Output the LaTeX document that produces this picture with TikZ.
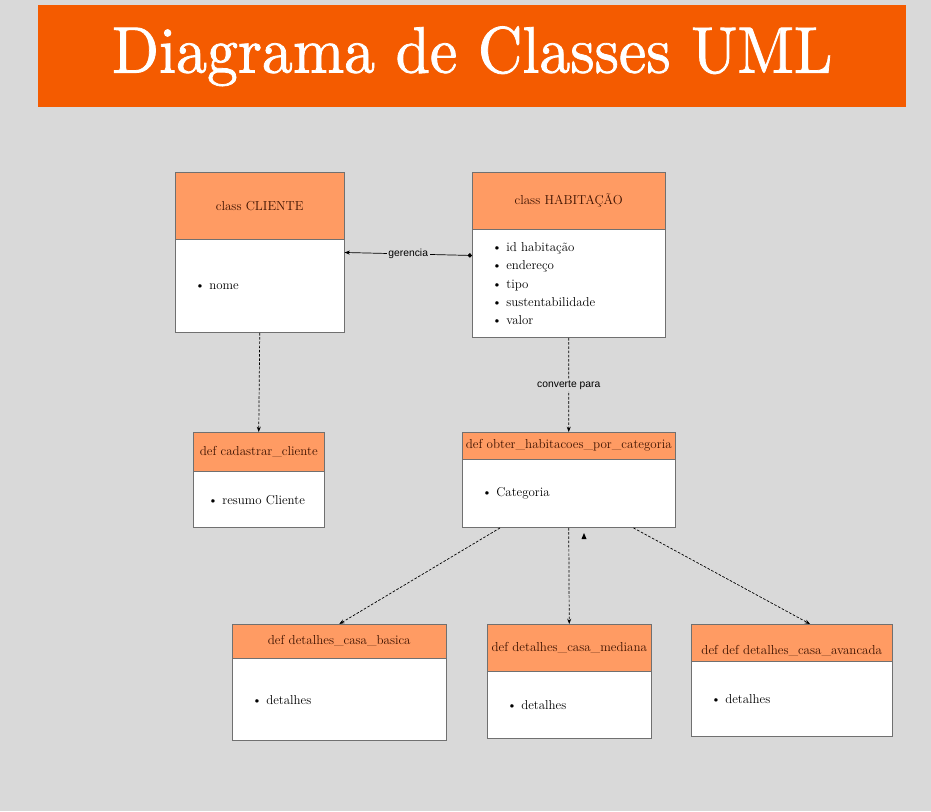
\documentclass[tikz,border=0pt]{standalone}
\usepackage{fontspec}
\usepackage{graphicx}
\usepackage{xcolor}
\usepackage{tikz}
\usetikzlibrary{positioning, arrows.meta, calc}

\newfontfamily\labelsans{Liberation Sans}
\newfontfamily\titlefont[Extension=.otf, RawFeature={embolden=1.2}]{lmroman10-regular}
\definecolor{bggray}{HTML}{D9D9D9}
\definecolor{banner}{HTML}{F45B00}
\definecolor{headfill}{HTML}{FF9B63}
\definecolor{headtext}{HTML}{3D1200}
\definecolor{boxline}{HTML}{707070}

\begin{document}
\begin{tikzpicture}[
      x=0.03cm, y=-0.03cm,
      head/.style={draw=boxline, fill=headfill, rectangle, anchor=north west, text=headtext, inner sep=0pt, font=\fontsize{11.1}{13}\selectfont},
      body/.style={draw=boxline, fill=white, rectangle, anchor=north, align=left, inner xsep=0.6cm, inner ysep=0pt, font=\fontsize{11}{15.5}\selectfont},
      link/.style={line width=0.6pt, dash pattern=on 2.2pt off 1.4pt, -{Stealth[length=1.6mm, width=1.2mm]}},
      tag/.style={fill=bggray, inner sep=1.5pt, font=\labelsans\fontsize{8.8}{10}\selectfont}
    ]
      \fill[bggray] (0,0) rectangle (931,811);
      \node[fill=banner, anchor=north west, minimum width=26.04cm, minimum height=3.06cm, text=white, font=\titlefont\fontsize{56}{60}\selectfont] (title) at (38,5) {\scalebox{0.94}[1]{Diagrama de Classes UML}};

      % classes
      \node[head, minimum width=5.07cm, minimum height=2.01cm] (cliente-h) at (175,172) {class CLIENTE};
      \node[body, text width=3.87cm, minimum height=2.79cm] (cliente) at (cliente-h.south) {\textbullet\ nome};

      \node[head, minimum width=5.79cm, minimum height=1.71cm] (hab-h) at (472,172) {class HABITAÇÃO};
      \node[body, text width=4.59cm, minimum height=3.24cm] (hab) at (hab-h.south) {\textbullet\ id habitação\\ \textbullet\ endereço\\ \textbullet\ tipo\\ \textbullet\ sustentabilidade\\ \textbullet\ valor};

      % funcoes
      \node[head, minimum width=3.93cm, minimum height=1.17cm] (cadastro-h) at (193,432) {def cadastrar\_cliente};
      \node[body, inner xsep=0.45cm, text width=3.03cm, minimum height=1.68cm] (cadastro) at (cadastro-h.south) {\textbullet\ resumo Cliente};

      \node[head, minimum width=6.39cm, minimum height=0.81cm] (obter-h) at (462,432) {def obter\_habitacoes\_por\_categoria};
      \node[body, text width=5.19cm, minimum height=2.04cm] (obter) at (obter-h.south) {\textbullet\ Categoria};

      \node[head, minimum width=6.42cm, minimum height=1.02cm] (basica-h) at (232,624) {def detalhes\_casa\_basica};
      \node[body, text width=5.22cm, minimum height=2.46cm] (basica) at (basica-h.south) {\textbullet\ detalhes};

      \node[head, minimum width=4.92cm, minimum height=1.41cm] (mediana-h) at (487,624) {def detalhes\_casa\_mediana};
      \node[body, text width=3.72cm, minimum height=2.01cm] (mediana) at (mediana-h.south) {\textbullet\ detalhes};

      \node[head, minimum width=6.03cm, minimum height=1.11cm, text height=22pt] (avancada-h) at (691,624) {def def detalhes\_casa\_avancada};
      \node[body, text width=4.83cm, minimum height=2.25cm] (avancada) at (avancada-h.south) {\textbullet\ detalhes};

      % ligacoes
      \draw[line width=0.6pt, {Circle[length=1.3mm]}-{Stealth[length=1.6mm, width=1.2mm]}] ([yshift=-0.78cm]hab.north west) -- node[tag] {gerencia} ([yshift=-0.39cm]cliente.north east);
      \draw[link] (cliente.south) -- (cadastro-h.north);
      \draw[link] (hab.south) -- node[tag] {converte para} (obter-h.north);
      \draw[link] ([xshift=1.14cm]obter.south west) -- (basica-h.north);
      \draw[link] (obter.south) -- (mediana-h.north);
      \draw[link] ([xshift=-1.26cm]obter.south east) -- ([xshift=0.55cm]avancada-h.north);
      \fill (584,533) -- (581.5,539) -- (586.5,539) -- cycle;
    \end{tikzpicture}
\end{document}
